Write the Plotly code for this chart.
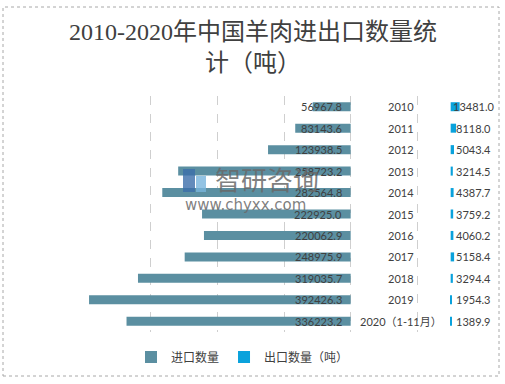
import plotly.graph_objects as go

years = ["2010", "2011", "2012", "2013", "2014", "2015", "2016", "2017", "2018", "2019", "2020（1-11月）"]
imports = [56967.8, 83143.6, 123938.5, 258723.2, 282564.8, 222925.0, 220062.9, 248975.9, 319035.7, 392426.3, 336223.2]
exports = [13481.0, 8118.0, 5043.4, 3214.5, 4387.7, 3759.2, 4060.2, 5158.4, 3294.4, 1954.3, 1389.9]
grid_ticks = [-400000, -300000, -200000, -100000, 0, 100000, 200000]

W, H = 505, 384
IMP_COLOR = "#5b8fa1"
EXP_COLOR = "#0aa2dc"
TXT = "#404040"
NUM_FONT = "Lato, Noto Sans CJK SC, sans-serif"
EXPORT_BASE = 150000
YEAR_X = 75000
EXP_LABEL_X = 184000

fig = go.Figure()
fig.add_trace(go.Bar(
    y=years, x=[-v for v in imports], orientation="h",
    marker=dict(color=IMP_COLOR, line=dict(width=0)),
    name="进口数量", hoverinfo="skip",
))
fig.add_trace(go.Bar(
    y=years, x=exports, base=EXPORT_BASE, orientation="h",
    marker=dict(color=EXP_COLOR, line=dict(width=0)),
    name="出口数量（吨）", hoverinfo="skip",
))

ann = []
for i, (yr, iv, ev) in enumerate(zip(years, imports, exports)):
    ann.append(dict(x=0, y=i, xref="x", yref="y", text=f"{iv:.1f}", showarrow=False,
                    xanchor="right", xshift=-7, font=dict(family=NUM_FONT, size=11, color=TXT)))
    ann.append(dict(x=YEAR_X, y=i, xref="x", yref="y", text=yr, showarrow=False,
                    xanchor="center", font=dict(family=NUM_FONT, size=11, color=TXT)))
    ann.append(dict(x=EXP_LABEL_X, y=i, xref="x", yref="y", text=f"{ev:.1f}", showarrow=False,
                    xanchor="center", font=dict(family=NUM_FONT, size=11, color=TXT)))

# title
ann.append(dict(x=0.5, y=1 - 17 / H, xref="paper", yref="paper", xanchor="center", yanchor="top",
                text="2010-2020年中国羊肉进出口数量统<br>计（吨）", showarrow=False,
                font=dict(family="Liberation Serif, Noto Sans CJK SC, serif", size=24, color=TXT)))
# watermark
ann.append(dict(x=267 / W, y=1 - 179 / H, xref="paper", yref="paper", xanchor="center", yanchor="middle",
                text="智研咨询", showarrow=False,
                font=dict(family="Noto Sans CJK SC", size=26, color="rgba(105,105,105,0.85)")))
ann.append(dict(x=245 / W, y=1 - 205 / H, xref="paper", yref="paper", xanchor="center", yanchor="middle",
                text="www.chyxx.com", showarrow=False,
                font=dict(family="DejaVu Sans", size=15, color="rgba(105,105,105,0.85)")))

shapes = [
    dict(type="rect", xref="paper", yref="paper", x0=3 / W, x1=499 / W, y0=1 - 376 / H, y1=1 - 7 / H,
         line=dict(color="#a8a8a8", width=1, dash="dot"), fillcolor="rgba(0,0,0,0)", layer="below"),
    dict(type="rect", xref="paper", yref="paper", x0=183 / W, x1=195 / W, y0=1 - 192 / H, y1=1 - 169 / H,
         line=dict(width=0), fillcolor="rgba(60,110,170,0.8)"),
    dict(type="rect", xref="paper", yref="paper", x0=196 / W, x1=206 / W, y0=1 - 192 / H, y1=1 - 176 / H,
         line=dict(width=0), fillcolor="rgba(120,180,220,0.8)"),
]

fig.update_layout(
    width=W, height=H,
    margin=dict(l=0, r=0, t=0, b=0),
    paper_bgcolor="white", plot_bgcolor="white",
    barmode="overlay", bargap=0.58,
    showlegend=True,
    legend=dict(orientation="h", x=131 / W, y=1 - 357 / H, xanchor="left", yanchor="middle",
                font=dict(family="Noto Sans CJK SC", size=12, color=TXT),
                itemwidth=30, bgcolor="rgba(0,0,0,0)"),
    xaxis=dict(domain=[84 / W, 484 / W], range=[-400000, 200000], tickvals=grid_ticks,
               showticklabels=False, showgrid=True, gridcolor="#cfcfcf", griddash="dash", gridwidth=1,
               zeroline=False, showline=False, fixedrange=True),
    yaxis=dict(domain=[1 - 332 / H, 1 - 96 / H], range=[len(years) - 0.5, -0.5], type="category",
               showticklabels=False, showgrid=False, zeroline=False, showline=False, fixedrange=True),
    annotations=ann, shapes=shapes,
)

fig.write_html("out.html", config={"displayModeBar": False},
               post_script="document.body.style.margin='0';document.body.style.overflow='hidden';")
